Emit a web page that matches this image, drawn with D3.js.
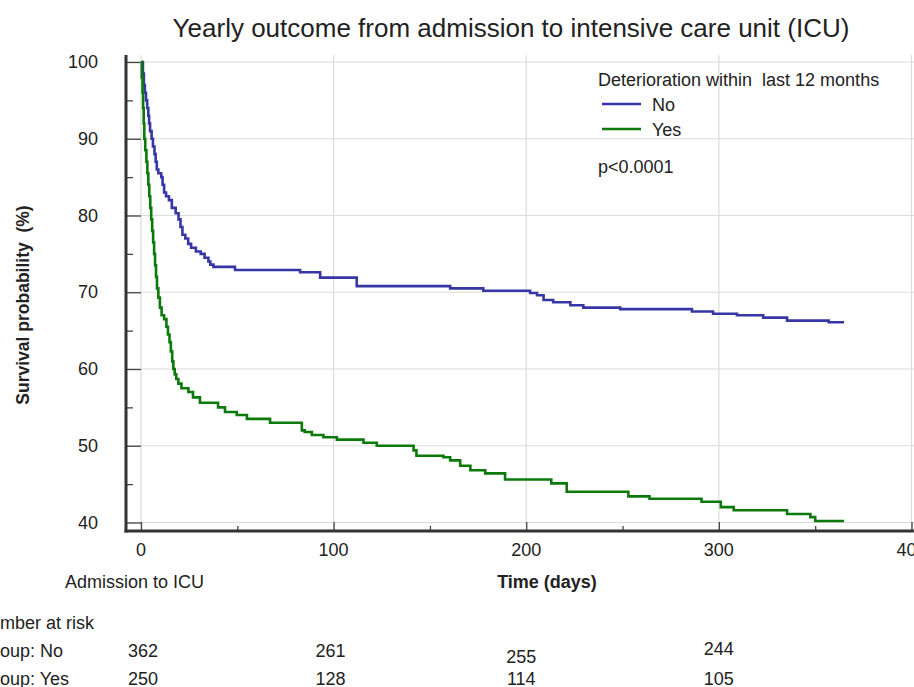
<!DOCTYPE html>
<html>
<head>
<meta charset="utf-8">
<script src="https://cdn.jsdelivr.net/npm/d3@7"></script>
<style>
  html, body { margin: 0; padding: 0; background: #fff; overflow: hidden; }
  svg { display: block; font-family: "Liberation Sans", Arial, sans-serif; }
</style>
</head>
<body>
<div id="chart"></div>
<script>
// ---- Data ------------------------------------------------------------------
const title = 'Yearly outcome from admission to intensive care unit (ICU)';
const groups = ['No', 'Yes'];
const xTicks = [0, 100, 200, 300, 400];
const yTicks = [40, 50, 60, 70, 80, 90, 100];

// step points: [day, survival %]
const noDays = [0, 1, 1.5, 2, 2.6, 3.2, 3.8, 4.2, 4.7, 5.5, 6.2, 7, 7.6, 8.2, 9, 10.5, 11.2, 12, 13,
  14.5, 16, 18, 19.5, 20.5, 21.5, 23, 24.5, 26, 28.5, 31, 33, 35, 36, 37.6,
  48.8, 82.6, 93, 112, 160.5, 177.7, 202, 205.6, 209, 214, 222.9, 229.6, 248.8, 286, 297,
  309.4, 323, 335.4, 357, 365];
const noSurv = [100, 98.5, 97, 96, 95, 94, 93, 92, 91, 90, 89, 88, 87, 86, 85.5, 85, 84, 83, 82.5,
  82, 81, 80.3, 79.5, 78.5, 77.5, 77, 76.3, 75.8, 75.3, 75, 74.5, 74, 73.6, 73.3,
  72.9, 72.6, 71.9, 70.8, 70.5, 70.2, 69.9, 69.6, 69.0, 68.7, 68.3, 68.0, 67.8, 67.5, 67.2,
  67.0, 66.7, 66.3, 66.1, 66.1];

const yesDays = [0, 0.4, 0.8, 1.1, 1.4, 1.7, 2.2, 2.8, 3.3, 3.8, 4.3, 4.8, 5.3, 5.8, 6.3, 6.8, 7.3,
  7.8, 8.3, 9, 9.8, 10.7, 12, 13.2, 14, 14.8, 15.5, 16.2, 16.8, 17.5, 18.3, 19.4, 21, 24.6, 27, 30.6,
  40, 43.6, 49.7, 55, 67, 83.5, 85, 88.7, 94.7, 101.7, 115.5, 122.4, 141.5, 143, 157, 160.5,
  165.7, 171, 178.7, 189, 213, 221, 253, 264, 291, 301, 307.7, 335.4, 347.5, 350, 365];
const yesSurv = [100, 98, 96, 94, 92, 90, 88.5, 87, 85.5, 84, 82.5, 81, 79.5, 78, 76.5, 75, 73.5,
  72, 70.5, 69.3, 68, 67, 66.5, 65.5, 64.5, 63.5, 62.3, 61, 60, 59.3, 58.7, 58.1, 57.5, 57.0, 56.3, 55.6,
  55.0, 54.4, 54.0, 53.5, 53.0, 52.0, 51.8, 51.4, 51.1, 50.8, 50.4, 50.0, 49.4, 48.7, 48.5, 48.1,
  47.4, 46.8, 46.4, 45.6, 45.1, 44.0, 43.4, 43.1, 42.7, 42.0, 41.6, 41.1, 40.7, 40.2, 40.2];

const riskDays = [0, 100, 200, 300];
const riskNo  = [362, 261, 255, 244];
const riskYes = [250, 128, 114, 105];

const COLORS = { No: '#3636a6', Yes: '#0b7a0b' };

// ---- Layout ------------------------------------------------------------------
const W = 914, H = 687;
const axisX = 126, axisY = 531;
const FS = '18px';

const svg = d3.select('#chart').append('svg')
  .attr('width', W).attr('height', H);

const x = d3.scaleLinear().domain([0, 400]).range([141, 911.5]);
const y = d3.scaleLinear().domain([40, 100]).range([522.5, 62]);

// title
svg.append('text')
  .attr('x', 511).attr('y', 37)
  .attr('text-anchor', 'middle')
  .style('font-size', '26px').style('fill', '#222')
  .text(title);

// ---- Grid --------------------------------------------------------------------
const grid = svg.append('g');
grid.selectAll('.gx').data(xTicks).join('line')
  .attr('x1', d => x(d)).attr('x2', d => x(d))
  .attr('y1', 55).attr('y2', axisY)
  .attr('stroke', '#dcdcdc').attr('stroke-width', 1.2);
grid.selectAll('.gy').data(yTicks).join('line')
  .attr('x1', axisX).attr('x2', W)
  .attr('y1', d => y(d)).attr('y2', d => y(d))
  .attr('stroke', '#dcdcdc').attr('stroke-width', 1.2);

// ---- Axes --------------------------------------------------------------------
// y axis: ticks point inwards
svg.append('g')
  .attr('transform', `translate(${axisX},0)`)
  .call(d3.axisRight(y).tickValues(d3.range(40, 101, 5)).tickFormat('').tickSize(7))
  .call(g => g.select('.domain').remove())
  .call(g => g.selectAll('.tick line')
    .attr('x2', d => d % 10 === 0 ? 15 : 7)
    .attr('stroke', '#444').attr('stroke-width', 1.3));

svg.append('g')
  .selectAll('text').data(yTicks).join('text')
  .attr('x', 98).attr('y', d => y(d) + 6)
  .attr('text-anchor', 'end')
  .style('font-size', FS).style('fill', '#222')
  .text(d => d);

// x axis: ticks point upwards
svg.append('g')
  .attr('transform', `translate(0,${axisY})`)
  .call(d3.axisTop(x).tickValues(d3.range(0, 401, 50)).tickFormat('').tickSize(5))
  .call(g => g.select('.domain').remove())
  .call(g => g.selectAll('.tick line')
    .attr('y2', d => d % 100 === 0 ? -9 : -5)
    .attr('stroke', '#444').attr('stroke-width', 1.3));

svg.append('g')
  .selectAll('text').data(xTicks).join('text')
  .attr('x', d => x(d)).attr('y', 556)
  .attr('text-anchor', 'middle')
  .style('font-size', FS).style('fill', '#222')
  .text(d => d);

svg.append('line')
  .attr('x1', axisX).attr('x2', axisX).attr('y1', 55).attr('y2', axisY + 1.5)
  .attr('stroke', '#333').attr('stroke-width', 3);
svg.append('line')
  .attr('x1', axisX - 1.5).attr('x2', W).attr('y1', axisY).attr('y2', axisY)
  .attr('stroke', '#333').attr('stroke-width', 3);

// axis titles
svg.append('text')
  .attr('transform', 'translate(29,305) rotate(-90)')
  .attr('text-anchor', 'middle')
  .attr('xml:space', 'preserve')
  .style('font-size', '17.5px').style('font-weight', 'bold').style('fill', '#222')
  .text('Survival probability  (%)');

svg.append('text')
  .attr('x', 547).attr('y', 588)
  .attr('text-anchor', 'middle')
  .style('font-size', FS).style('font-weight', 'bold').style('fill', '#222')
  .text('Time (days)');

svg.append('text')
  .attr('x', 65).attr('y', 588)
  .style('font-size', FS).style('fill', '#222')
  .text('Admission to ICU');

// ---- Curves ------------------------------------------------------------------
const line = d3.line()
  .x(d => x(d[0])).y(d => y(d[1]))
  .curve(d3.curveStepAfter);

const series = [
  { key: 'No',  pts: d3.zip(noDays, noSurv) },
  { key: 'Yes', pts: d3.zip(yesDays, yesSurv) }
];

svg.append('g').selectAll('path').data(series).join('path')
  .attr('d', d => line(d.pts))
  .attr('fill', 'none')
  .attr('stroke', d => COLORS[d.key])
  .attr('stroke-width', 2.6);

// ---- Legend ------------------------------------------------------------------
const leg = svg.append('g');
leg.append('text')
  .attr('x', 598).attr('y', 86)
  .style('font-size', FS).style('fill', '#222')
  .attr('xml:space', 'preserve')
  .text('Deterioration within  last 12 months');

groups.forEach((gname, i) => {
  const ly = 104 + i * 25;
  leg.append('line')
    .attr('x1', 602).attr('x2', 641).attr('y1', ly).attr('y2', ly)
    .attr('stroke', COLORS[gname]).attr('stroke-width', 2.6);
  leg.append('text')
    .attr('x', 652).attr('y', ly + 7)
    .style('font-size', FS).style('fill', '#222')
    .text(gname);
});

leg.append('text')
  .attr('x', 598).attr('y', 173)
  .style('font-size', FS).style('fill', '#222')
  .text('p<0.0001');

// ---- Number at risk ----------------------------------------------------------
const risk = svg.append('g').style('font-size', FS).style('fill', '#222');
risk.append('text').attr('x', -23).attr('y', 629).text('Number at risk');
risk.append('text').attr('x', -20).attr('y', 657).text('Group: No');
risk.append('text').attr('x', -20).attr('y', 685).text('Group: Yes');

// the "200" column sits a little lower in the No row, "300" a little higher
const noRowY = [657, 657, 663, 655];
const colShift = [2, -3, -5, 0];
risk.selectAll('.rn').data(riskDays).join('text')
  .attr('x', (d, i) => x(d) + colShift[i])
  .attr('y', (d, i) => noRowY[i])
  .attr('text-anchor', 'middle')
  .text((d, i) => riskNo[i]);
risk.selectAll('.ry').data(riskDays).join('text')
  .attr('x', (d, i) => x(d) + colShift[i])
  .attr('y', 685)
  .attr('text-anchor', 'middle')
  .text((d, i) => riskYes[i]);
</script>
</body>
</html>
